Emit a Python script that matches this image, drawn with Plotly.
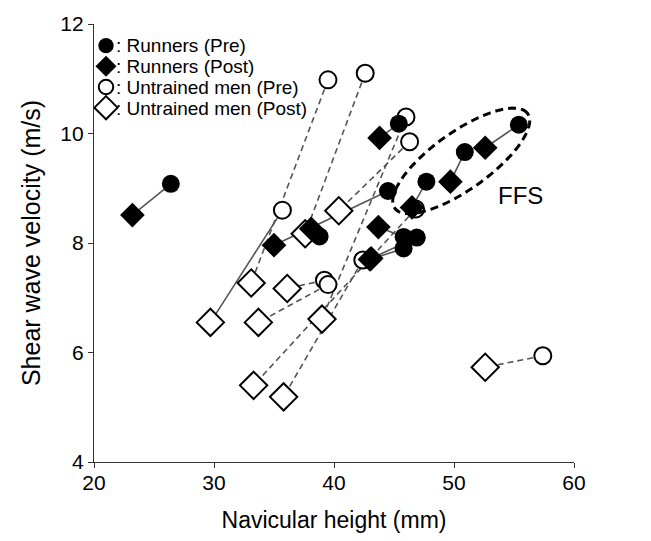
import numpy as np
import plotly.graph_objects as go

# ---------------- data ----------------
runners_pre_x = [26.4, 44.5, 38.8, 45.4, 47.7, 50.9, 55.4, 45.8, 46.9, 45.8]
runners_pre_y = [9.08, 8.95, 8.12, 10.18, 9.12, 9.66, 10.16, 8.11, 8.10, 7.90]
runners_post_x = [23.2, 35.0, 38.1, 43.8, 46.5, 49.7, 52.6, 43.7, 43.1, 43.0]
runners_post_y = [8.51, 7.96, 8.26, 9.92, 8.65, 9.12, 9.74, 8.29, 7.72, 7.70]

untrained_pre_x = [35.7, 39.5, 42.6, 46.0, 46.3, 46.8, 39.2, 39.5, 42.4, 57.4]
untrained_pre_y = [8.60, 10.98, 11.10, 10.30, 9.85, 8.62, 7.32, 7.24, 7.69, 5.94]
untrained_post_x = [29.7, 33.1, 37.6, 39.0, 40.4, 33.3, 36.1, 33.7, 35.8, 52.6]
untrained_post_y = [6.55, 7.27, 8.17, 6.61, 8.59, 5.40, 7.17, 6.55, 5.19, 5.73]

x_ticks = [20, 30, 40, 50, 60]
y_ticks = [4, 6, 8, 10, 12]
legend_names = [": Runners (Pre)", ": Runners (Post)",
                ": Untrained men (Pre)", ": Untrained men (Post)"]
x_title = "Navicular height (mm)"
y_title = "Shear wave velocity (m/s)"
ffs_label = "FFS"

# ---------------- layout constants ----------------
W, H = 651, 541
ML, MR, MT, MB = 94, 77, 17, 79
FONT = "Liberation Sans, Arial, sans-serif"
LINE_COL = "#555555"
solid_untrained = {0}  # pair drawn with a solid connector in the original

# marker styles: (symbol, size, fill) for Runners Pre/Post, Untrained Pre/Post
STY = [("circle", 18, "black"), ("diamond", 19, "black"),
       ("circle", 17, "white"), ("diamond", 21, "white")]
KEY_SCALE = 0.85  # legend keys slightly smaller than plotted marks

fig = go.Figure()


def connectors(xa, ya, xb, yb, idx):
    xs, ys = [], []
    for i in idx:
        xs += [xa[i], xb[i], None]
        ys += [ya[i], yb[i], None]
    return xs, ys


n_r = len(runners_pre_x)
xs, ys = connectors(runners_pre_x, runners_pre_y, runners_post_x, runners_post_y, range(n_r))
fig.add_trace(go.Scatter(x=xs, y=ys, mode="lines", line=dict(color=LINE_COL, width=1.6),
                         showlegend=False, hoverinfo="skip"))

n_u = len(untrained_pre_x)
dash_idx = [i for i in range(n_u) if i not in solid_untrained]
solid_idx = [i for i in range(n_u) if i in solid_untrained]
xs, ys = connectors(untrained_pre_x, untrained_pre_y, untrained_post_x, untrained_post_y, dash_idx)
fig.add_trace(go.Scatter(x=xs, y=ys, mode="lines",
                         line=dict(color=LINE_COL, width=1.6, dash="6px,4px"),
                         showlegend=False, hoverinfo="skip"))
xs, ys = connectors(untrained_pre_x, untrained_pre_y, untrained_post_x, untrained_post_y, solid_idx)
fig.add_trace(go.Scatter(x=xs, y=ys, mode="lines", line=dict(color=LINE_COL, width=1.6),
                         showlegend=False, hoverinfo="skip"))


def mk(k, scale=1.0):
    sym, size, fill = STY[k]
    lw = 2 if fill == "white" else 0
    return dict(symbol=sym, size=size * scale, color=fill, line=dict(color="black", width=lw))


series = [(untrained_pre_x, untrained_pre_y, 2), (untrained_post_x, untrained_post_y, 3),
          (runners_pre_x, runners_pre_y, 0), (runners_post_x, runners_post_y, 1)]
for xv, yv, k in series:
    fig.add_trace(go.Scatter(x=xv, y=yv, mode="markers", name=legend_names[k],
                             showlegend=False, marker=mk(k)))

# FFS ellipse (dashed), defined in pixel space around the FFS cluster
x0, x1 = x_ticks[0], x_ticks[-1]
y0, y1 = y_ticks[0], y_ticks[-1]
pw = W - ML - MR
ph = H - MT - MB
sx = pw / (x1 - x0)
sy = ph / (y1 - y0)
cx, cy = 50.6, 9.5           # centre (data units)
a_px, b_px, ang = 82, 29, np.deg2rad(36)
t = np.linspace(0, 2 * np.pi, 121)
ex = a_px * np.cos(t) * np.cos(ang) - b_px * np.sin(t) * np.sin(ang)
ey = a_px * np.cos(t) * np.sin(ang) + b_px * np.sin(t) * np.cos(ang)
px_ = cx + ex / sx
py_ = cy + ey / sy
path = "M " + " L ".join(f"{u:.4f},{v:.4f}" for u, v in zip(px_, py_)) + " Z"
fig.add_shape(type="path", path=path, xref="x", yref="y",
              line=dict(color="black", width=3, dash="8px,5px"))

fig.add_annotation(x=55.5, y=8.86, text=ffs_label, showarrow=False,
                   font=dict(family=FONT, size=24, color="black"))

# ---- legend: key markers on an invisible overlay axis (0..1 = plot area) + text block
row_px = [39, 60, 81, 102]
key_x = (106 - ML) / pw
for k, ry in enumerate(row_px):
    fig.add_trace(go.Scatter(x=[key_x], y=[(H - MB - ry) / ph], mode="markers",
                             xaxis="x2", yaxis="y2", showlegend=False,
                             hoverinfo="skip", marker=mk(k, KEY_SCALE), cliponaxis=False))
fig.add_annotation(x=(115 - ML) / pw, y=(H - MB - np.mean(row_px)) / ph,
                   xref="paper", yref="paper",
                   text="<br>".join(f"<span style='font-size:19px'>{n}</span>"
                                    for n in legend_names),
                   showarrow=False, align="left", xanchor="left", yanchor="middle",
                   borderpad=0, font=dict(family=FONT, size=16.2, color="black"))

fig.update_layout(
    width=W, height=H,
    margin=dict(l=ML, r=MR, t=MT, b=MB),
    paper_bgcolor="white", plot_bgcolor="white",
    font=dict(family=FONT, color="black"),
    showlegend=False,
    xaxis2=dict(overlaying="x", range=[0, 1], visible=False, fixedrange=True),
    yaxis2=dict(overlaying="y", range=[0, 1], visible=False, fixedrange=True),
    xaxis=dict(range=[x0, x1], tickvals=x_ticks, showgrid=False, zeroline=False,
               showline=True, linecolor="#333333", linewidth=1.2,
               ticks="outside", ticklen=5, tickcolor="#333333",
               tickfont=dict(family=FONT, size=21), ticklabelstandoff=-3,
               title=dict(text=x_title, font=dict(family=FONT, size=23), standoff=18)),
    yaxis=dict(range=[y0, y1], tickvals=y_ticks, showgrid=False, zeroline=False,
               showline=True, linecolor="#333333", linewidth=1.2,
               ticks="outside", ticklen=5, tickcolor="#333333",
               tickfont=dict(family=FONT, size=21),
               title=dict(text=y_title, font=dict(family=FONT, size=25), standoff=12)),
)

fig.write_html("out.html")
